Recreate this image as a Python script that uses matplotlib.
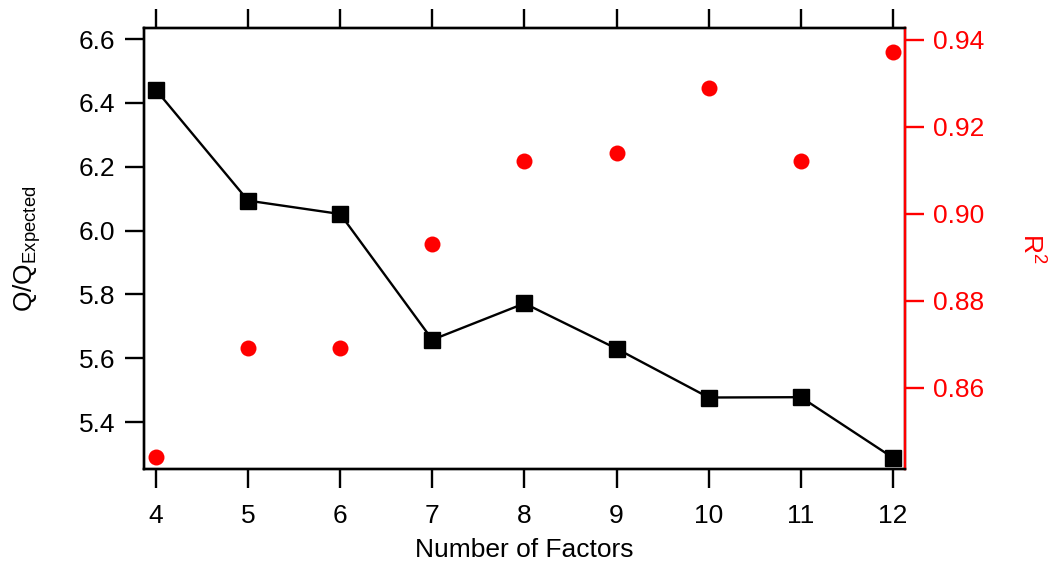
import matplotlib
matplotlib.use("Agg")
import matplotlib.pyplot as plt

# number of factors vs Q/Qexp and R^2
factors = [4, 5, 6, 7, 8, 9, 10, 11, 12]
q_ratio = [6.441, 6.094, 6.052, 5.658, 5.772, 5.630, 5.477, 5.478, 5.288]
r_squared = [0.8441, 0.8692, 0.8692, 0.8931, 0.9122, 0.9140, 0.9290, 0.9122, 0.9372]

plt.rcParams['font.family'] = ['Liberation Sans', 'DejaVu Sans']
plt.rcParams['mathtext.default'] = 'regular'
fs = 19

fig = plt.figure(figsize=(10.57, 5.62), dpi=100)
ax = fig.add_axes([0.1362, 0.1655, 0.72, 0.7847])
ax2 = ax.twinx()

ax.plot(factors, q_ratio, color='black', lw=1.7, marker='s', ms=11.5, zorder=3)
ax2.plot(factors, r_squared, 'o', color='red', ms=11.5, markeredgewidth=0)

ax.set_xlim(3.87, 12.13)
ax.set_ylim(5.253, 6.635)
ax2.set_ylim(0.84138, 0.94276)

ax.set_xticks(factors)
ax.set_yticks([5.4, 5.6, 5.8, 6.0, 6.2, 6.4, 6.6])
ax.set_yticklabels(['5.4', '5.6', '5.8', '6.0', '6.2', '6.4', '6.6'])
ax2.set_yticks([0.86, 0.88, 0.90, 0.92, 0.94])
ax2.set_yticklabels(['0.86', '0.88', '0.90', '0.92', '0.94'])

ax.tick_params(axis='x', direction='out', length=13.5, width=1.7, labelsize=fs,
               pad=12, top=True, labeltop=False)
ax.tick_params(axis='y', direction='out', length=13.5, width=1.7, labelsize=fs, pad=7)
ax2.tick_params(axis='y', direction='out', length=13.5, width=1.7, labelsize=fs, pad=7,
                colors='red')

for s in ax.spines.values():
    s.set_linewidth(1.7)
for s in ax2.spines.values():
    s.set_linewidth(1.7)
ax2.spines['right'].set_color('red')

ax.set_xlabel('Number of Factors', fontsize=fs, labelpad=7)
ax.set_ylabel('Q/Q$_{Expected}$', fontsize=fs, labelpad=26)
ax2.set_ylabel('R$^{2}$', fontsize=fs, color='red', rotation=-90, labelpad=43)

fig.savefig('out.png', dpi=100)
